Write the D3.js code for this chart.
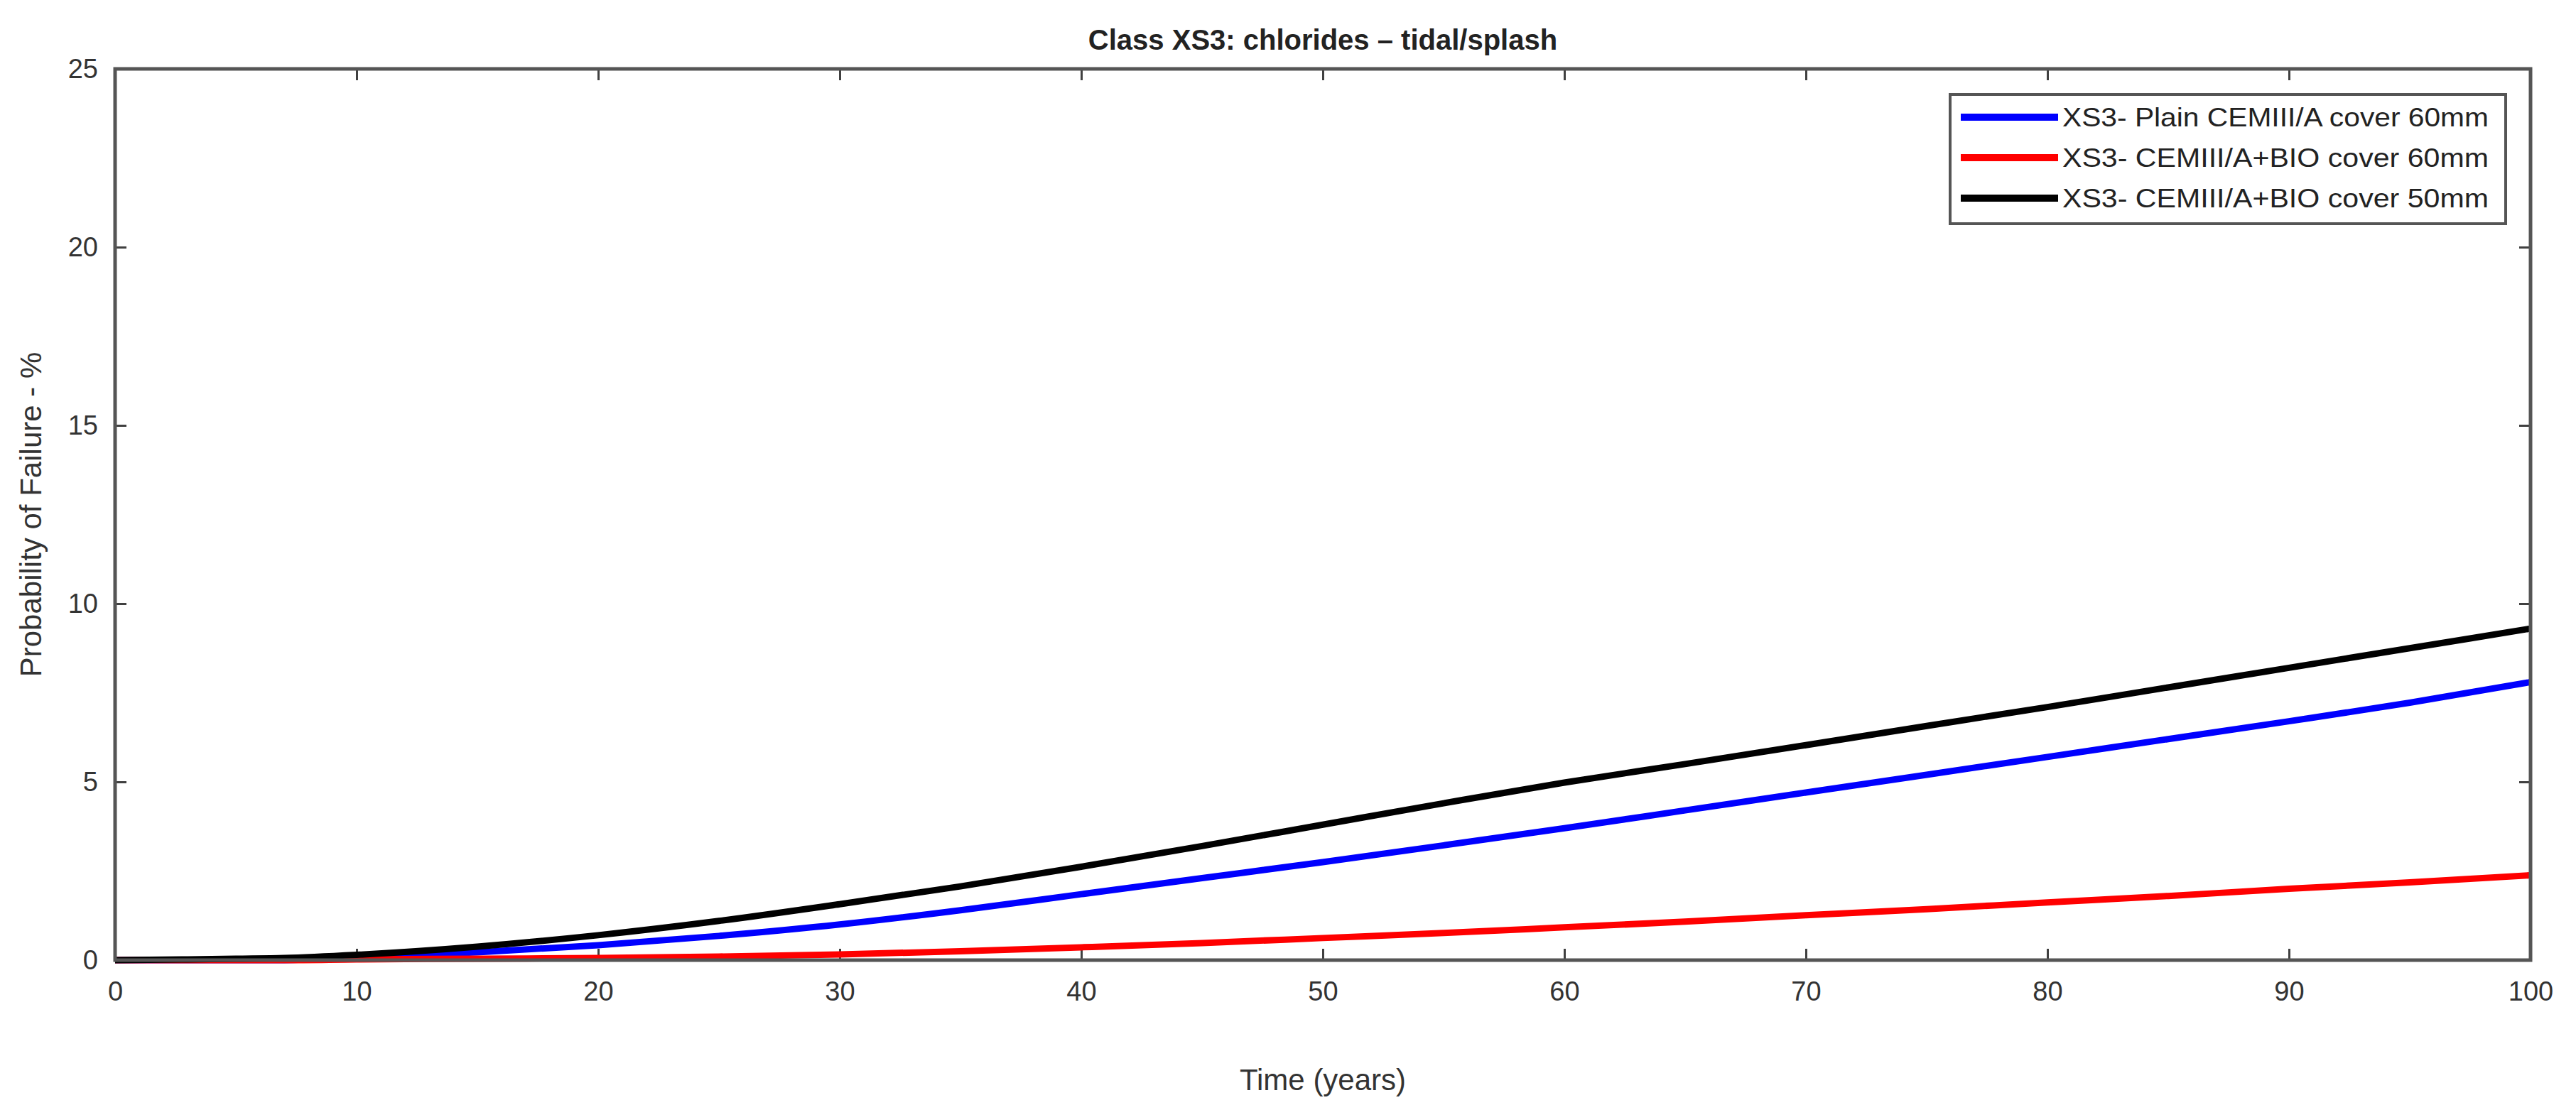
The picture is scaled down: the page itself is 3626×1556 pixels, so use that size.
<!DOCTYPE html><html><head><meta charset="utf-8">
<script src="https://d3js.org/d3.v7.min.js"></script>
<style>body{margin:0;background:#fff}text{font-family:"Liberation Sans",Arial,sans-serif}</style></head><body>
<svg id="c" width="3626" height="1556"></svg>
<script>
const years=[0,3,5,7,10,15,20,25,30,35,40,45,50,55,60,65,70,75,80,85,90,95,100];
const blue=[0,0,0,0,0.08,0.22,0.42,0.68,1.0,1.4,1.85,2.3,2.75,3.22,3.7,4.2,4.7,5.2,5.7,6.2,6.7,7.22,7.8];
const red=[0,0,0,0,0.02,0.04,0.06,0.1,0.16,0.25,0.36,0.48,0.62,0.76,0.92,1.08,1.26,1.43,1.62,1.8,2.0,2.18,2.38];
const black=[0,0.02,0.04,0.06,0.15,0.38,0.7,1.1,1.57,2.07,2.62,3.2,3.8,4.4,4.98,5.5,6.03,6.57,7.1,7.65,8.2,8.75,9.3];
const xTicks=d3.range(0,101,10), yTicks=[0,5,10,15,20,25];
const series=[{name:"XS3- Plain CEMIII/A cover 60mm",v:blue,c:"#0000ff"},{name:"XS3- CEMIII/A+BIO cover 60mm",v:red,c:"#ff0000"},{name:"XS3- CEMIII/A+BIO cover 50mm",v:black,c:"#000000"}];
const L=162,R=3562,T=97,B=1352;
const svg=d3.select("#c");
const x=d3.scaleLinear().domain([0,100]).range([L,R]);
const y=d3.scaleLinear().domain([0,25]).range([B,T]);
const ax="#404040";
svg.append("g").attr("transform",`translate(0,${B})`).call(d3.axisBottom(x).tickValues(xTicks).tickSize(-16).tickPadding(30)).call(g=>{g.select(".domain").remove();});
svg.append("g").attr("transform",`translate(0,${T})`).call(d3.axisTop(x).tickValues(xTicks).tickSize(-16).tickFormat("")).call(g=>g.select(".domain").remove());
svg.append("g").attr("transform",`translate(${L},0)`).call(d3.axisLeft(y).tickValues(yTicks).tickSize(-16).tickPadding(24)).call(g=>g.select(".domain").remove());
svg.append("g").attr("transform",`translate(${R},0)`).call(d3.axisRight(y).tickValues(yTicks).tickSize(-16).tickFormat("")).call(g=>g.select(".domain").remove());
svg.selectAll(".tick line").attr("stroke",ax).attr("stroke-width",3);
svg.selectAll(".tick text").attr("font-size",38).attr("fill","#333");
const line=d3.line().x((d,i)=>x(years[i])).y(d=>y(d)).curve(d3.curveMonotoneX);
series.forEach(s=>svg.append("path").datum(s.v).attr("d",line).attr("fill","none").attr("stroke",s.c).attr("stroke-width",9));
svg.append("rect").attr("x",L).attr("y",T).attr("width",R-L).attr("height",B-T).attr("fill","none").attr("stroke","#555").attr("stroke-width",5);
svg.append("text").attr("x",(L+R)/2).attr("y",70).attr("text-anchor","middle").attr("font-size",40).attr("font-weight","bold").attr("fill","#222").text("Class XS3: chlorides – tidal/splash");
svg.append("text").attr("x",(L+R)/2).attr("y",1535).attr("text-anchor","middle").attr("font-size",42).attr("fill","#333").text("Time (years)");
svg.append("text").attr("transform",`translate(58,${(T+B)/2}) rotate(-90)`).attr("text-anchor","middle").attr("font-size",42).attr("fill","#333").text("Probability of Failure - %");
const lg=svg.append("g");
lg.append("rect").attr("x",2745).attr("y",133).attr("width",782).attr("height",182).attr("fill","#fff").attr("stroke","#555").attr("stroke-width",4);
series.forEach((s,i)=>{const yy=165+i*57;
lg.append("line").attr("x1",2760).attr("x2",2897).attr("y1",yy).attr("y2",yy).attr("stroke",s.c).attr("stroke-width",10);
lg.append("text").attr("x",2903).attr("y",yy+13).attr("font-size",36).attr("fill","#222").attr("textLength",600).attr("lengthAdjust","spacingAndGlyphs").text(s.name);});
</script></body></html>
